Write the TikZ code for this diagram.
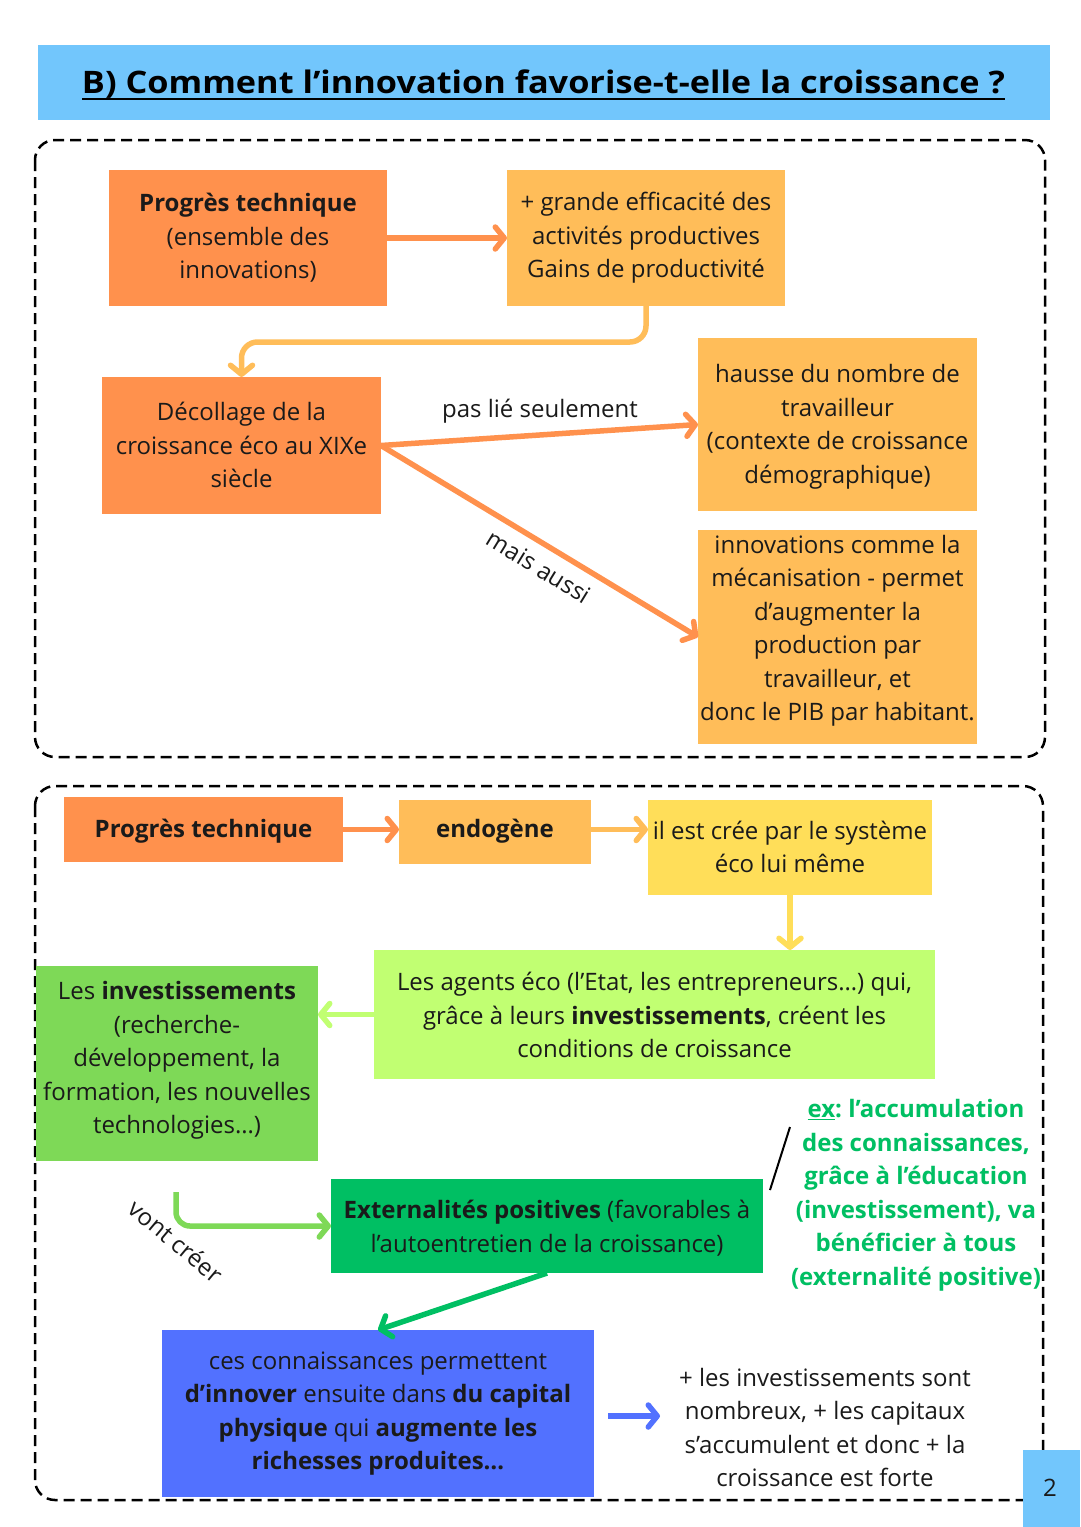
\documentclass[tikz,border=0pt]{standalone}
\usepackage{fontspec}
\setmainfont{Open Sans}
\usepackage{graphicx}
\usetikzlibrary{arrows.meta}
\definecolor{corange}{HTML}{FF914D}
\definecolor{clorange}{HTML}{FFBD59}
\definecolor{cyellow}{HTML}{FFDE59}
\definecolor{clgreen}{HTML}{C1FF72}
\definecolor{cgreen}{HTML}{7ED957}
\definecolor{cdgreen}{HTML}{00BF63}
\definecolor{cblue}{HTML}{5271FF}
\definecolor{ctitle}{HTML}{72C6FC}
\definecolor{ctext}{HTML}{1A1A1A}
\begin{document}
\begin{tikzpicture}[x=1pt,y=-1pt,
  boxs/.style={draw=none, inner sep=0pt, outer sep=0pt},
  txt/.style={align=center, inner sep=0pt, font=\fontsize{24}{33.5}\selectfont, text=ctext},
  arr/.style={line width=5.5pt, -{Straight Barb[length=9pt,width=22pt,round]}},
  dbox/.style={draw=black, line width=2.5pt, dash pattern=on 11pt off 6pt, rounded corners=20pt}]
\useasboundingbox (0,0) rectangle (1080,1527);
\fill[white] (0,0) rectangle (1080,1527);

% title
\fill[ctitle] (38,45) rectangle (1050,120);
\node[anchor=base, inner sep=0pt, text=black] (title) at (543.5,93)
  {\resizebox{923pt}{\height}{\fontsize{31}{36}\selectfont\bfseries B) Comment l’innovation favorise-t-elle la croissance ?}};
\draw[line width=2.6pt] (82,99) -- (1005,99);

% dashed frames
\draw[dbox] (35,140) rectangle (1045,757);
\draw[dbox] (35,786) rectangle (1043,1500);

% ---------- part 1 ----------
\node[boxs, fill=corange, minimum width=278pt, minimum height=136pt] (b1) at (248,238) {};
\node[boxs, fill=clorange, minimum width=278pt, minimum height=136pt] (b2) at (646,238) {};
\node[boxs, fill=corange, minimum width=279pt, minimum height=137pt] (b3) at (241.5,445.5) {};
\node[boxs, fill=clorange, minimum width=279pt, minimum height=173pt] (b4) at (837.5,424.5) {};
\node[boxs, fill=clorange, minimum width=279pt, minimum height=214pt] (b5) at (837.5,637) {};

\node[txt] (t1) at (248,238) {\textbf{Progrès technique}\\(ensemble des\\innovations)};
\node[txt] (t2) at (646,238) {+ grande efficacité des\\activités productives\\Gains de productivité};
\node[txt] (t3) at (241.5,445) {Décollage de la\\croissance éco au XIXe\\siècle};
\node[txt] (t4) at (837.5,427) {hausse du nombre de\\travailleur\\(contexte de croissance\\démographique)};
\node[txt] (t5) at (837.5,631) {innovations comme la\\mécanisation - permet\\d’augmenter la\\production par\\travailleur, et\\donc le PIB par habitant.};

\draw[arr, corange] (b1.east) -- (b2.west);
\draw[arr, clorange, rounded corners=16pt] (b2.south) -- ++(0,36) -| (b3.north);
\draw[arr, corange] (b3.east) -- (b4.west);
\draw[arr, corange] (b3.east) -- (b5.west);
\node[txt] (l1) at (540,411) {pas lié seulement};
\node[txt, rotate=-31.5] (l2) at (539,567) {mais aussi};

% ---------- part 2 ----------
\node[boxs, fill=corange, minimum width=279pt, minimum height=65pt] (bp1) at (203.5,829.5) {};
\node[boxs, fill=clorange, minimum width=192pt, minimum height=64pt] (be) at (495,832) {};
\node[boxs, fill=cyellow, minimum width=284pt, minimum height=95pt] (bil) at (790,847.5) {};
\node[boxs, fill=clgreen, minimum width=561pt, minimum height=129pt] (ba) at (654.5,1014.5) {};
\node[boxs, fill=cgreen, minimum width=282pt, minimum height=195pt] (binv) at (177,1063.5) {};
\node[boxs, fill=cdgreen, minimum width=432pt, minimum height=94pt] (bext) at (547,1226) {};
\node[boxs, fill=cblue, minimum width=432pt, minimum height=167pt] (bblue) at (378,1413.5) {};

\node[txt] (tp1) at (203.5,831.5) {\textbf{Progrès technique}};
\node[txt] (te) at (495,831.5) {\textbf{endogène}};
\node[txt] (til) at (790,847) {il est crée par le système\\éco lui même};
\node[txt] (ta) at (654.5,1015) {Les agents éco (l’Etat, les entrepreneurs…) qui,\\grâce à leurs \textbf{investissements}, créent les\\conditions de croissance};
\node[txt] (tinv) at (177,1060.5) {Les \textbf{investissements}\\(recherche-\\développement, la\\formation, les nouvelles\\technologies…)};
\node[txt] (text) at (547,1228) {\textbf{Externalités positives} (favorables à\\l’autoentretien de la croissance)};
\node[txt] (tblue) at (378,1413.5) {ces connaissances permettent\\\textbf{d’innover} ensuite dans \textbf{du capital}\\\textbf{physique} qui \textbf{augmente les}\\\textbf{richesses produites…}};
\node[txt] (tr) at (825,1427.5) {+ les investissements sont\\nombreux, + les capitaux\\s’accumulent et donc + la\\croissance est forte};
\node[txt, text=cdgreen, font=\fontsize{24}{33.5}\selectfont\bfseries] (tex) at (916,1195)
  {\underline{ex}:~l’accumulation\\des connaissances,\\grâce à l’éducation\\(investissement), va\\bénéficier à tous\\(externalité positive)};

\coordinate (vc) at (176,1192);
\coordinate (bl1) at (608,1416);
\coordinate (bl2) at (660,1416);
\draw[arr, corange] (bp1.east) -- (bp1.east -| be.west);
\draw[arr, clorange] (be.east |- bp1.east) -- (bp1.east -| bil.west);
\draw[arr, cyellow] (bil.south) -- (bil.south |- ba.north);
\draw[arr, clgreen] (ba.west) -- (ba.west -| binv.east);
\draw[arr, cgreen, rounded corners=14pt] (vc) |- (bext.west);
\draw[arr, cdgreen] (bext.south) -- (bblue.north);
\draw[arr, cblue] (bl1) -- (bl2);
\node[txt, rotate=-40] (lv) at (176,1241) {vont créer};
\draw[line width=2pt, black] (770,1190) -- (790,1127);

% page number
\fill[ctitle] (1023,1450) rectangle (1080,1527);
\node[txt] (pg) at (1050,1488) {2};
\end{tikzpicture}
\end{document}
